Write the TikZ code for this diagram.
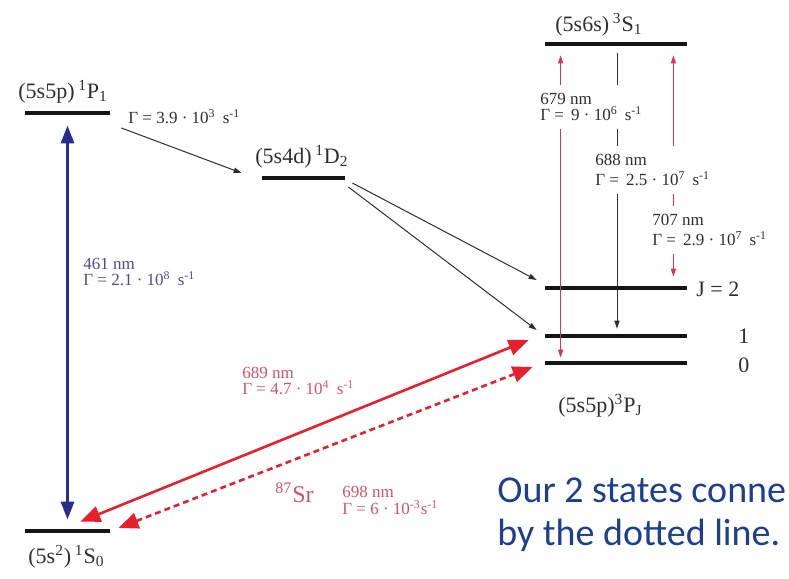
\documentclass[tikz,border=0pt]{standalone}
\usepackage{fontspec}
\setmainfont{Liberation Serif}
\newfontfamily\notefont{Carlito}
\usepackage{tikz}
\usetikzlibrary{arrows.meta, calc}
\definecolor{levelblack}{HTML}{151515}
\definecolor{labelgray}{HTML}{2E2E2E}
\definecolor{singletblue}{HTML}{2B2D8E}
\definecolor{bluetext}{HTML}{4A4D8C}
\definecolor{clockred}{HTML}{E8202E}
\definecolor{redtext}{HTML}{D05466}
\definecolor{repumpred}{HTML}{D93450}
\definecolor{noteblue}{HTML}{1D3F8F}

\begin{document}
\begin{tikzpicture}[
    x=0.5pt, y=-0.5pt,
    level/.style={rectangle, fill=levelblack, inner sep=0pt, minimum height=2pt},
    term/.style={font=\fontsize{11}{12}\selectfont, color=labelgray, inner sep=0pt},
    rate/.style={font=\fontsize{8.5}{8}\selectfont, color=labelgray, align=left,
                 inner sep=0pt},
    gap/.style={rate, fill=white, inner xsep=1pt, inner ysep=4pt},
    note/.style={font=\notefont\fontsize{19}{20}\selectfont, color=noteblue,
                 anchor=base west, inner sep=0pt},
    bluearrow/.style={{Triangle[length=9pt, width=6.5pt]}-{Triangle[length=9pt, width=6.5pt]},
                      line width=1.5pt, color=singletblue},
    redarrow/.style={{Triangle[length=10pt, width=8pt]}-{Triangle[length=10pt, width=8pt]},
                     line width=1.3pt, color=clockred},
    thinarrow/.style={-{Triangle[length=4pt, width=2.6pt]}, line width=0.5pt,
                      color=labelgray},
    redthin/.style={{Triangle[length=4pt, width=2.6pt]}-{Triangle[length=4pt, width=2.6pt]},
                    line width=0.5pt, color=repumpred}
]
\clip (0,0) rectangle (789,579);

% Singlet levels (left)
\node[level, minimum width=42.5pt] (P1) at (67.5,113) {};
\node[level, minimum width=41.5pt] (D2) at (303.5,178) {};
\node[level, minimum width=42.5pt] (S0) at (67.5,531) {};

% Triplet levels (right)
\node[level, minimum width=71pt] (S1)  at (616,44)  {};
\node[level, minimum width=71pt] (P2)  at (616,288) {};
\node[level, minimum width=71pt] (P1t) at (616,336) {};
\node[level, minimum width=71pt] (P0)  at (616,363) {};

\node[term, anchor=base west] (P1lab) at (18,98) {(5s5p)\,\textsuperscript{1}P\textsubscript{1}};
\node[term, anchor=base west] (D2lab) at (255,163) {(5s4d)\,\textsuperscript{1}D\textsubscript{2}};
\node[term, anchor=base west] (S0lab) at (28,563) {(5s\textsuperscript{2})\,\textsuperscript{1}S\textsubscript{0}};
\node[term, anchor=base west] (S1lab) at (555,31) {(5s6s)\,\textsuperscript{3}S\textsubscript{1}};
\node[term, anchor=base west] (PJlab) at (558,412) {(5s5p)\textsuperscript{3}P\textsubscript{J}};
\node[term, anchor=base west] (J2) at (696,296) {J = 2};
\node[term, anchor=base west] (J1) at (738,343) {1};
\node[term, anchor=base west] (J0) at (738,372) {0};

% Strong blue line
\draw[bluearrow, shorten <=4.5pt, shorten >=5pt] (S0.north) -- (P1.south);
\node[rate, color=bluetext, anchor=west] (blue) at (83,272)
    {461 nm\\Γ = 2.1 · 10\textsuperscript{8}\, s\textsuperscript{-1}};

% Intercombination lines
\draw[redarrow] ($(S0.north east)+(-30,-7)$) -- ($(P1t.west)+(-16,4)$);
\draw[redarrow, dash pattern=on 3pt off 2pt] ($(S0.east)+(8,-3)$) -- ($(P0.west)+(-12,4)$);
\node[rate, color=redtext, anchor=west] (red689) at (242,381)
    {689 nm\\Γ = 4.7 · 10\textsuperscript{4}\, s\textsuperscript{-1}};
\node[term, color=redtext, font=\fontsize{12}{13}\selectfont, anchor=base west] (Sr)
    at (275,502) {\textsuperscript{87}Sr};
\node[rate, color=redtext, anchor=west] (red698) at (342,500)
    {698 nm\\[0.5pt]Γ = 6 · 10\textsuperscript{-3}s\textsuperscript{-1}};

% Decay paths
\draw[thinarrow] ($(P1.east)+(11,15)$) -- ($(D2.west)+(-20,-5)$);
\node[rate, anchor=base west] (decayD) at (128,123)
    {Γ = 3.9 · 10\textsuperscript{3}\, s\textsuperscript{-1}};
\draw[thinarrow] ($(D2.east)+(7,5)$) -- ($(P2.west)+(-8,-8)$);
\draw[thinarrow] ($(D2.east)+(3,9)$) -- ($(P1t.west)+(-8,-6)$);

% Repumping lines
\draw[redthin] ($(S1.south west)+(16,9)$) -- ($(P0.north west)+(16,-3)$);
\draw[thinarrow] ($(S1.south)+(1,7)$) -- ($(P1t.north)+(1,-5)$);
\draw[redthin] ($(S1.south east)+(-14,9)$) -- ($(P2.north east)+(-14,-9)$);
\node[gap, anchor=west] (r679) at (538,107)
    {679 nm\\Γ = \,9 · 10\textsuperscript{6}\, s\textsuperscript{-1}};
\node[gap, anchor=west] (r688) at (593,170)
    {688 nm\\[2pt]Γ = \,2.5 · 10\textsuperscript{7}\, s\textsuperscript{-1}};
\node[gap, anchor=west] (r707) at (650,230)
    {707 nm\\[2pt]Γ = \,2.9 · 10\textsuperscript{7}\, s\textsuperscript{-1}};

% Note
\node[note] (note1) at (497,502) {Our 2 states conne};
\node[note] (note2) at (497,545) {by the dotted line.};

\end{tikzpicture}
\end{document}
